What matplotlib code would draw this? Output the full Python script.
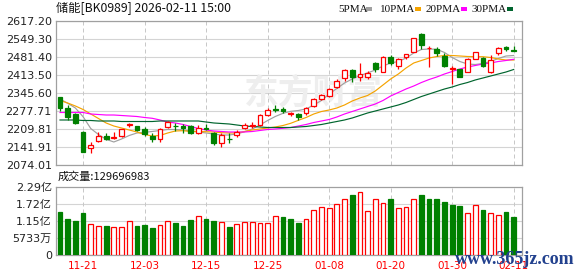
import matplotlib
matplotlib.use("Agg")
import matplotlib.pyplot as plt
from matplotlib.patches import Rectangle
import numpy as np

# ---- data (60 trading days, 11-18 .. 02-11) ----
opens = [2329.4, 2287.9, 2266.4, 2197.4, 2140.0, 2162.7, 2183.4, 2174.7, 2182.3, 2224.9,
         2220.4, 2208.0, 2184.5, 2172.1, 2216.2, 2221.9, 2220.4, 2219.3, 2193.6, 2213.0,
         2195.9, 2158.2, 2173.2, 2187.2, 2212.5, 2223.0, 2224.9, 2262.6, 2284.1, 2287.1,
         2267.9, 2266.4, 2268.3, 2295.5, 2323.0, 2334.3, 2367.1, 2401.1, 2432.4, 2407.1,
         2404.8, 2457.6, 2426.7, 2480.3, 2446.3, 2482.5, 2501.4, 2567.0, 2514.2, 2511.6,
         2485.2, 2436.9, 2435.0, 2426.0, 2472.7, 2476.5, 2424.8, 2497.6, 2520.3, 2507.5]
highs = [2331.0, 2302.2, 2270.2, 2202.3, 2158.9, 2197.4, 2193.6, 2197.4, 2211.0, 2233.6,
         2223.0, 2218.5, 2193.6, 2212.4, 2240.0, 2233.6, 2226.8, 2224.9, 2224.9, 2227.6,
         2199.6, 2193.6, 2193.6, 2206.1, 2231.3, 2235.1, 2266.4, 2287.9, 2300.4, 2294.0,
         2273.9, 2271.3, 2291.7, 2328.6, 2343.7, 2365.6, 2397.3, 2438.0, 2435.0, 2456.9,
         2429.7, 2464.4, 2484.0, 2488.9, 2477.6, 2492.7, 2553.0, 2573.1, 2522.9, 2518.0,
         2495.4, 2447.5, 2438.0, 2477.6, 2500.3, 2482.5, 2488.9, 2520.3, 2524.0, 2522.9]
lows = [2278.9, 2243.8, 2228.7, 2123.0, 2120.4, 2160.0, 2166.5, 2172.1, 2180.8, 2218.5,
        2203.4, 2182.3, 2159.7, 2158.9, 2215.0, 2200.4, 2196.6, 2189.1, 2189.1, 2206.1,
        2149.5, 2143.1, 2158.2, 2180.8, 2208.7, 2214.7, 2223.0, 2260.7, 2275.1, 2270.2,
        2257.0, 2242.6, 2264.5, 2292.8, 2319.2, 2332.4, 2363.3, 2389.0, 2388.2, 2389.0,
        2397.3, 2426.0, 2424.8, 2451.2, 2435.0, 2473.9, 2500.3, 2511.6, 2442.5, 2486.3,
        2444.8, 2380.7, 2406.0, 2423.7, 2472.0, 2443.7, 2421.1, 2489.0, 2505.2, 2504.7]
closes = [2290.2, 2255.1, 2234.3, 2124.2, 2149.5, 2183.4, 2173.2, 2179.3, 2208.7, 2227.5,
          2206.1, 2191.0, 2172.1, 2208.7, 2235.5, 2220.0, 2212.5, 2193.6, 2214.4, 2211.5,
          2155.9, 2187.2, 2171.0, 2199.6, 2224.9, 2226.0, 2262.6, 2281.5, 2282.2, 2277.7,
          2269.4, 2255.1, 2287.9, 2321.8, 2338.1, 2360.7, 2392.0, 2432.4, 2407.1, 2416.1,
          2422.2, 2435.0, 2480.3, 2456.9, 2472.7, 2491.6, 2551.9, 2524.8, 2516.5, 2497.6,
          2448.6, 2438.8, 2407.1, 2472.7, 2498.4, 2447.5, 2468.2, 2514.2, 2510.5, 2505.8]
volumes = [1.44, 1.21, 1.14, 1.41, 1.04, 0.99, 0.97, 0.93, 0.96, 1.13,
           0.97, 1.01, 0.90, 1.01, 1.13, 1.07, 0.97, 1.17, 1.33, 1.21,
           1.14, 1.11, 0.94, 1.06, 1.11, 1.11, 1.07, 1.07, 1.33, 1.27,
           1.21, 1.08, 1.23, 1.53, 1.63, 1.60, 1.73, 1.90, 2.04, 2.13,
           1.50, 1.90, 1.77, 1.90, 1.60, 1.63, 1.90, 2.01, 1.88, 1.90,
           1.78, 1.68, 1.64, 1.43, 1.70, 1.51, 1.43, 1.36, 1.44, 1.29696983]  # 亿
ma5 = [2323.0, 2306.8, 2289.0, 2256.2, 2211.7, 2189.1, 2171.0, 2160.8, 2172.1, 2185.3,
       2194.7, 2197.4, 2200.4, 2204.2, 2207.9, 2207.9, 2206.1, 2202.3, 2198.5, 2194.7,
       2191.0, 2187.2, 2187.2, 2191.0, 2199.6, 2209.8, 2224.9, 2241.9, 2257.0, 2269.0,
       2276.6, 2279.6, 2285.3, 2300.4, 2317.3, 2341.8, 2362.6, 2383.3, 2398.4, 2411.6,
       2421.1, 2432.4, 2447.5, 2458.8, 2464.4, 2477.6, 2496.5, 2509.7, 2511.6, 2510.5,
       2498.4, 2479.5, 2464.4, 2455.0, 2453.1, 2456.9, 2464.4, 2475.7, 2485.2, 2487.1]
ma10 = [2317.3, 2307.9, 2296.6, 2283.4, 2266.4, 2249.4, 2232.5, 2221.1, 2213.6, 2206.1,
        2198.5, 2189.1, 2183.4, 2185.3, 2194.7, 2202.3, 2203.4, 2200.4, 2200.4, 2199.6,
        2198.5, 2195.9, 2194.7, 2194.7, 2200.4, 2206.1, 2209.8, 2213.6, 2217.4, 2223.0,
        2231.3, 2242.6, 2253.2, 2266.4, 2275.8, 2281.5, 2289.0, 2300.4, 2315.4, 2326.8,
        2336.2, 2353.2, 2375.8, 2398.4, 2417.3, 2439.9, 2458.8, 2468.2, 2477.6, 2483.3,
        2487.1, 2487.1, 2485.2, 2483.3, 2482.5, 2482.5, 2479.5, 2473.9, 2470.1, 2470.1]
ma20 = [2272.1, 2272.1, 2272.1, 2272.1, 2266.4, 2264.5, 2262.6, 2262.6, 2260.7, 2258.9,
        2257.0, 2253.2, 2250.2, 2243.8, 2236.2, 2232.5, 2226.8, 2219.3, 2211.7, 2206.1,
        2202.3, 2200.4, 2198.5, 2198.5, 2198.5, 2200.4, 2204.2, 2207.9, 2209.8, 2212.5,
        2215.5, 2221.1, 2226.8, 2234.3, 2240.0, 2245.7, 2255.1, 2266.4, 2275.8, 2285.3,
        2294.7, 2304.1, 2317.3, 2334.3, 2347.5, 2360.7, 2372.0, 2385.2, 2396.5, 2406.0,
        2417.3, 2426.7, 2436.1, 2443.7, 2449.3, 2455.0, 2458.8, 2464.4, 2468.2, 2472.7]
ma30 = [2243.8, 2243.8, 2243.8, 2241.9, 2241.9, 2240.0, 2240.0, 2240.0, 2238.1, 2238.1,
        2238.1, 2238.1, 2238.1, 2240.0, 2240.0, 2240.0, 2240.0, 2240.0, 2240.0, 2236.2,
        2232.5, 2230.6, 2228.7, 2224.9, 2221.1, 2219.3, 2217.4, 2215.5, 2215.5, 2215.5,
        2215.5, 2217.4, 2219.3, 2223.0, 2226.8, 2232.5, 2238.1, 2243.8, 2251.3, 2260.7,
        2270.2, 2277.7, 2285.3, 2292.8, 2300.4, 2309.8, 2321.1, 2332.4, 2341.8, 2351.3,
        2360.7, 2368.3, 2377.7, 2385.2, 2394.7, 2402.2, 2409.7, 2417.3, 2424.8, 2434.3]

price_ticks = [2074.01, 2141.91, 2209.81, 2277.71, 2345.60, 2413.50, 2481.40, 2549.30, 2617.20]
vol_ticks = [0, 57330000, 114660000, 171990000, 229320000]
vol_tick_labels = ["0", "5733万", "1.15亿", "1.72亿", "2.29亿"]
date_pos = [3, 11, 19, 27, 35, 43, 51, 59]
date_labels = ["11-21", "12-03", "12-15", "12-25", "01-08", "01-20", "01-30", "02-11"]
ma_names = ["5PMA", "10PMA", "20PMA", "30PMA"]
title = "储能[BK0989] 2026-02-11 15:00"
last_volume = 129696983

RED = "#ff0000"
GREEN = "#008000"
GRID = "#d4d4d4"
FRAME = "#a0a0a0"
ma_colors = ["#a0a0a0", "#f5a300", "#ff00ff", "#00652e"]

W, H = 578, 276
fig = plt.figure(figsize=(W / 100, H / 100), dpi=100)

def box(left, top, right, bottom):  # pixel box -> figure fraction
    return [left / W, 1 - bottom / H, (right - left) / W, (bottom - top) / H]

ax = fig.add_axes(box(56, 21, 522, 165))
axv = fig.add_axes(box(56, 187, 522, 255))

x = np.arange(len(closes))
o = np.array(opens); c = np.array(closes)
up = c >= o
xlim = (-0.52, 60.08)

# ---- price panel ----
for yv in price_ticks:
    ax.axhline(yv, color=GRID, lw=0.8, zorder=0)
for p in date_pos:
    ax.axvline(p, color="#c8c8c8", lw=0.72, ls=(0, (4, 3)), zorder=0)

ax.text(313 / W, 1 - 93 / H, "东方财富", transform=fig.transFigure, ha="center", va="center",
        fontsize=25, fontweight="bold", color="#eeeeee", family=["Noto Sans CJK SC"], zorder=0.5)

for name, ma, col in zip(ma_names, [ma5, ma10, ma20, ma30], ma_colors):
    ax.plot(x, ma, color=col, lw=0.85, zorder=2)

ax.vlines(x[up], np.array(lows)[up], np.array(highs)[up], color=RED, lw=0.9, zorder=3)
ax.vlines(x[~up], np.array(lows)[~up], np.array(highs)[~up], color=GREEN, lw=0.9, zorder=3)
body_h = np.maximum(np.abs(c - o), 0.6)
ax.bar(x[up], body_h[up], bottom=o[up], width=0.62, facecolor="white", edgecolor=RED, lw=0.9, zorder=4)
ax.bar(x[~up], body_h[~up], bottom=c[~up], width=0.62, facecolor=GREEN, edgecolor=GREEN, lw=0.9, zorder=4)

ax.set_xlim(*xlim)
ax.set_ylim(price_ticks[0], price_ticks[-1])
ax.set_yticks(price_ticks)
ax.set_yticklabels(["%.2f" % t for t in price_ticks])
ax.set_xticks([])
ax.tick_params(axis="y", length=0, pad=3, labelsize=8, labelcolor="#222222")
for s in ax.spines.values():
    s.set_color(FRAME)
    s.set_linewidth(0.9)

# ---- volume panel ----
vol = np.array(volumes) * 1e8
prev = np.concatenate([[np.inf], c[:-1]])
vup = c >= prev
for yv in vol_ticks[1:-1]:
    axv.axhline(yv, color=GRID, lw=0.8, zorder=0)
for p in date_pos:
    axv.axvline(p, color="#c8c8c8", lw=0.72, ls=(0, (4, 3)), zorder=0)
axv.bar(x[vup], vol[vup], width=0.62, facecolor="white", edgecolor=RED, lw=0.9, zorder=3)
axv.bar(x[~vup], vol[~vup], width=0.62, facecolor=GREEN, edgecolor=GREEN, lw=0.9, zorder=3)
axv.set_xlim(*xlim)
axv.set_ylim(vol_ticks[0], vol_ticks[-1])
axv.set_yticks(vol_ticks)
axv.set_yticklabels(vol_tick_labels, family=["DejaVu Sans", "Noto Sans CJK SC"])
axv.set_xticks(date_pos)
axv.set_xticklabels(date_labels)
axv.tick_params(axis="y", length=0, pad=3, labelsize=8, labelcolor="#222222")
axv.tick_params(axis="x", length=0, pad=4, labelsize=7.5, labelcolor=RED)
for s in axv.spines.values():
    s.set_color(FRAME)
    s.set_linewidth(0.9)

# ---- header texts ----
fig.text(56 / W, 1 - 9 / H, title, ha="left", va="center", fontsize=8.8,
         family=["Noto Sans CJK SC", "DejaVu Sans"], color="#111111")
leg_x = [338, 380, 426, 472]
for lx, name, col in zip(leg_x, ma_names, ma_colors):
    t = fig.text(lx / W, 1 - 9.5 / H, name, ha="left", va="center", fontsize=8,
                 family="Liberation Serif", color="#111111")
    sx = lx + 6.8 * len(name) + 1
    fig.patches.append(Rectangle((sx / W, 1 - 11 / H), 6 / W, 4 / H,
                                 transform=fig.transFigure, facecolor=col, edgecolor="none"))
fig.text(58 / W, 1 - 177 / H, "成交量:%d" % last_volume, ha="left", va="center", fontsize=8,
         family=["Noto Sans CJK SC", "DejaVu Sans"], color="#111111")
fig.text(455 / W, 1 - 260 / H, "www.365jz.com", ha="left", va="center", fontsize=13,
         family="Liberation Serif", fontweight="bold", color="#22418e")

fig.savefig("out.png", dpi=100)
